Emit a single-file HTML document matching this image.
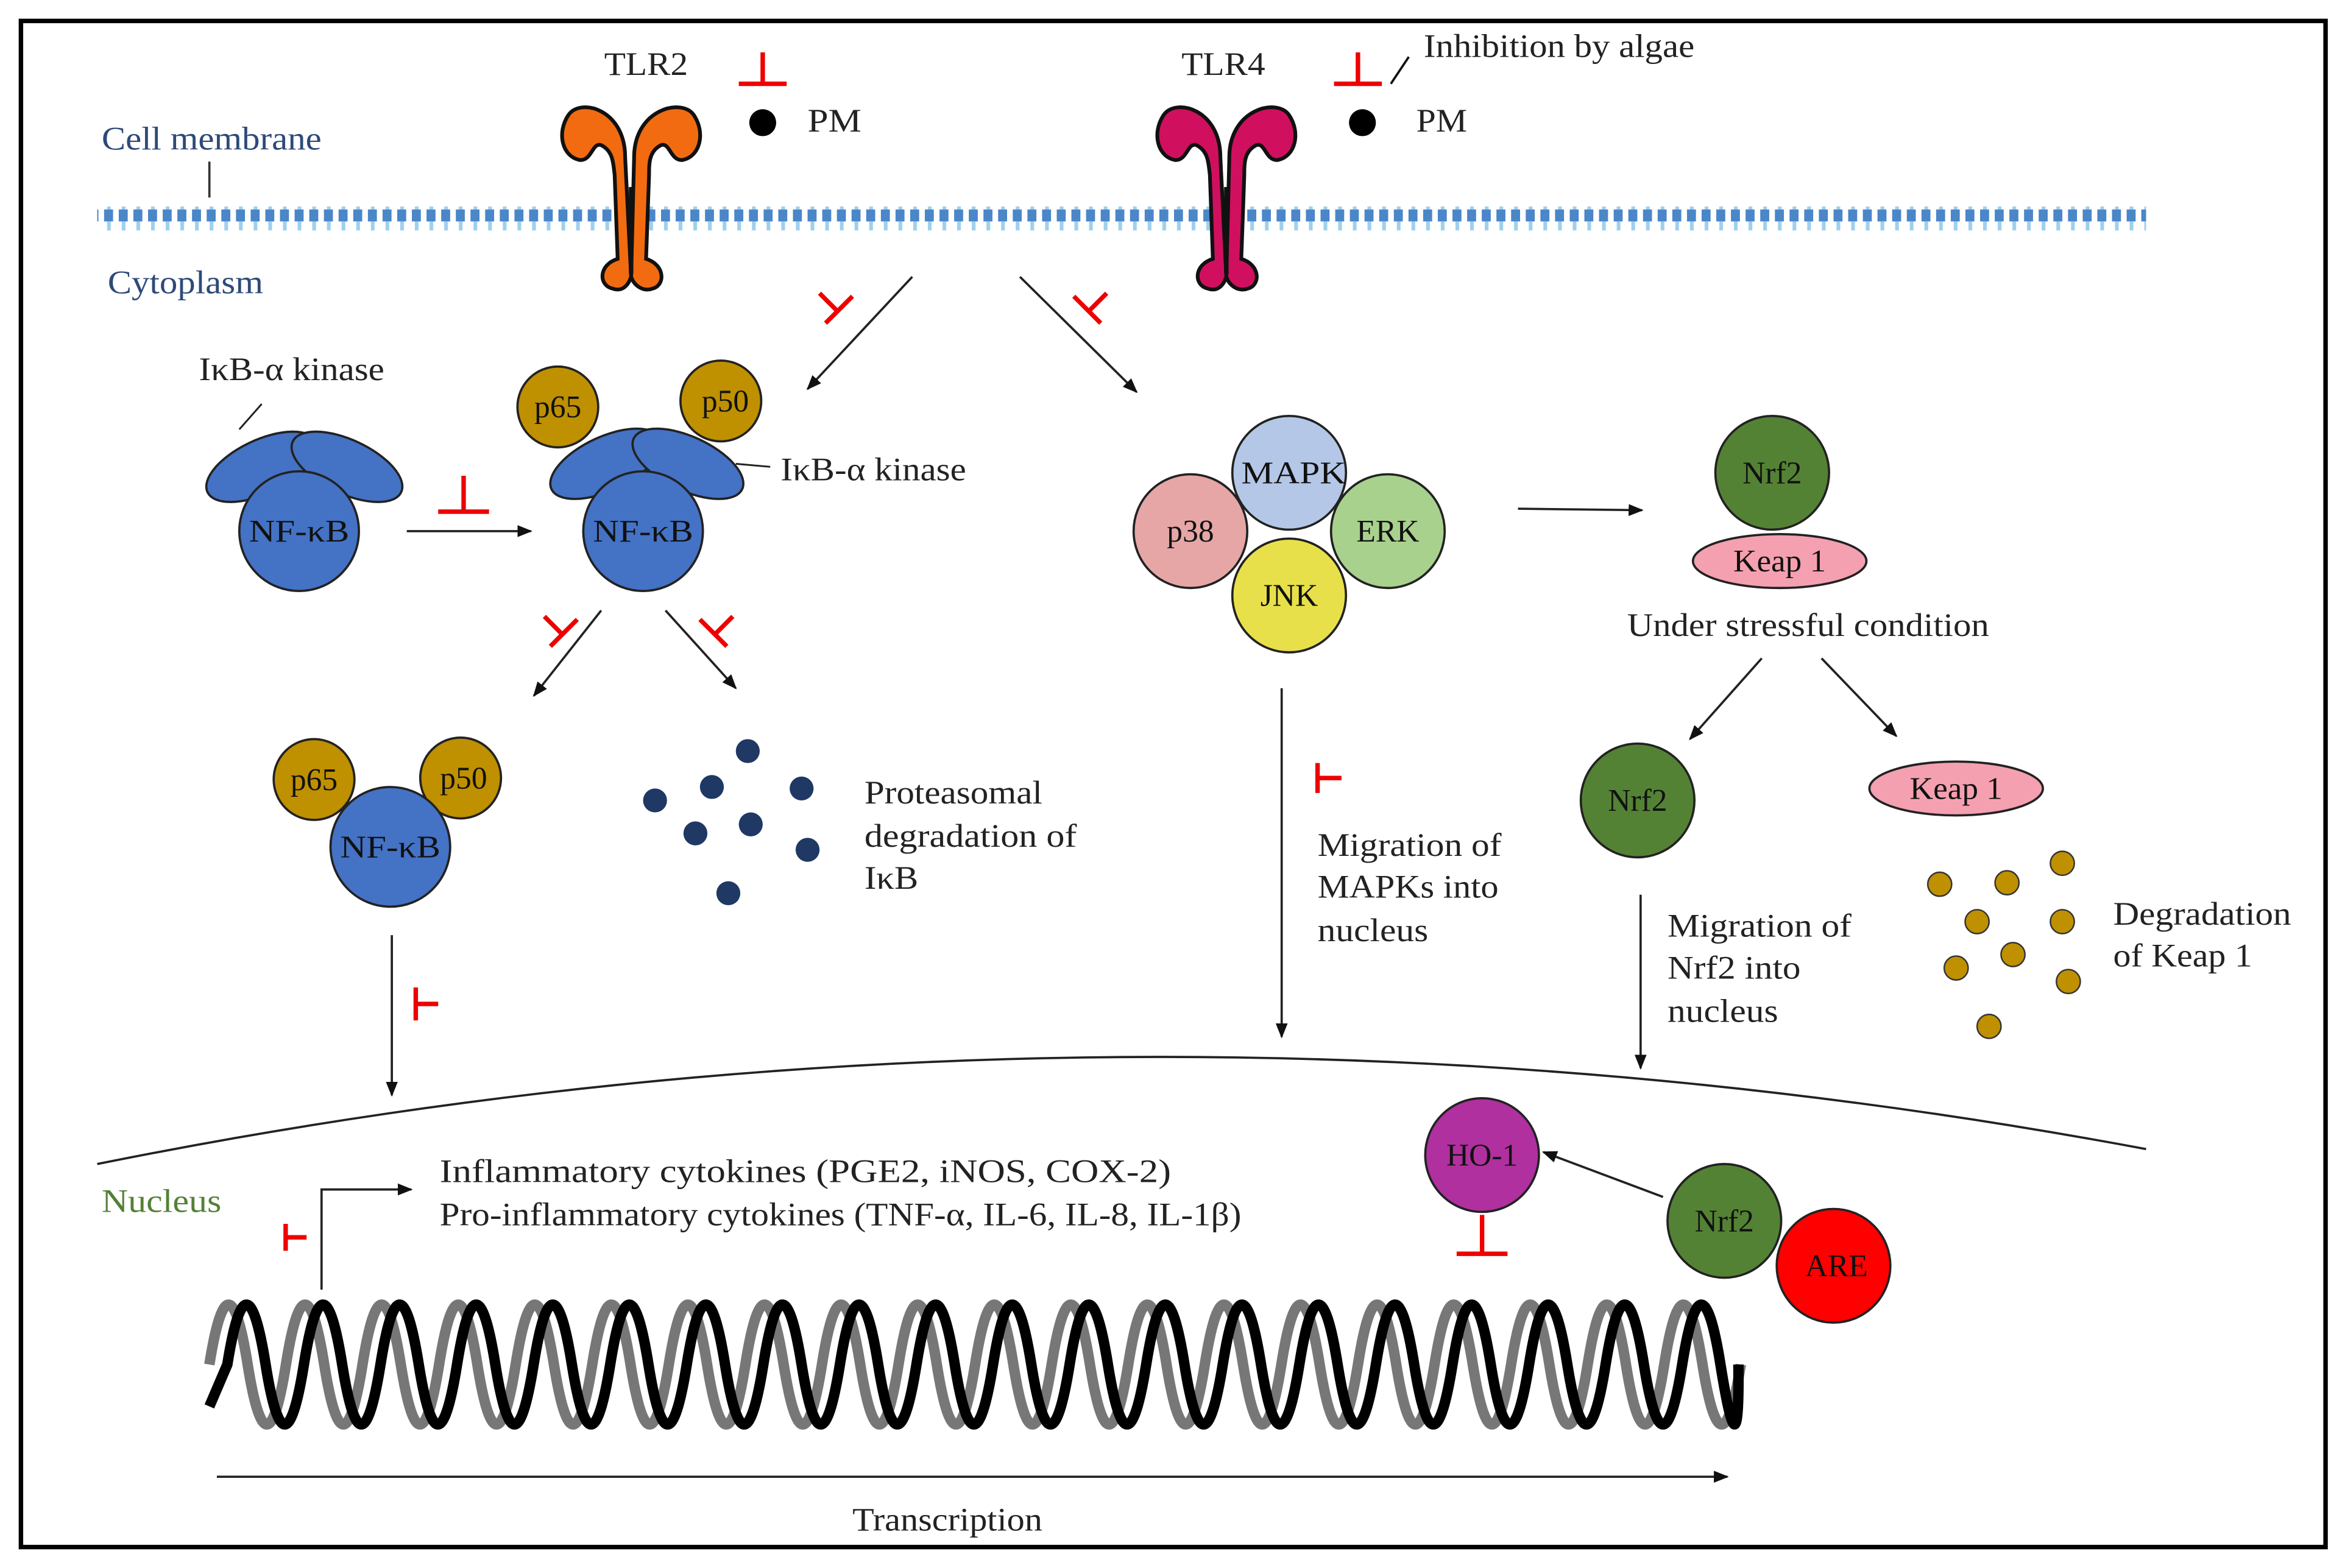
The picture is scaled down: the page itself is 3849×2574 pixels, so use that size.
<!DOCTYPE html>
<html><head><meta charset="utf-8"><style>html,body{margin:0;padding:0;background:#fff}svg{display:block}</style></head>
<body>
<svg width="3849" height="2574" viewBox="0 0 1568 1048" preserveAspectRatio="none" xmlns="http://www.w3.org/2000/svg" font-family="Liberation Serif, serif" font-size="22">
<defs>
<marker id="ah" markerWidth="10" markerHeight="10" refX="9" refY="5" orient="auto" markerUnits="userSpaceOnUse"><path d="M0,1 L10,5 L0,9 Z" fill="#111"/></marker>
<pattern id="mem" x="0" y="0" width="9.8" height="16" patternUnits="userSpaceOnUse">
<rect x="1" y="0" width="6" height="4" fill="#4a86c8"/><rect x="3" y="4" width="2.5" height="8" fill="#9fd0ee"/><rect x="1" y="12" width="6" height="4" fill="#4a86c8"/>
</pattern>
<g id="rec">
<path d="M-4,40 C-4,8 -34,0 -42,12 C-50,24 -46,40 -34,42 C-26,42 -26,30 -20,32 C-12,36 -12,44 -11,52 L-9,108 C-22,112 -22,126 -12,128 C-6,130 -2,126 0,120 Z" stroke="#111" stroke-width="2.5"/>
<path d="M2,40 C2,8 34,0 42,12 C50,24 46,40 34,42 C26,42 26,30 20,32 C12,36 12,44 12,52 L10,108 C23,112 23,126 14,128 C8,130 2,126 0,120 Z" stroke="#111" stroke-width="2.5"/>
<line x1="0" y1="60" x2="0" y2="118" stroke="#111" stroke-width="3"/>
</g>
</defs>
<rect x="14" y="14" width="1541" height="1020" fill="none" stroke="#000" stroke-width="3"/>
<rect x="65" y="138" width="1370" height="16" fill="url(#mem)"/>
<use href="#rec" x="422" y="65" fill="#f26b10"/>
<use href="#rec" x="820" y="65" fill="#d0105e"/>
<g fill="#222" lengthAdjust="spacingAndGlyphs">
<text x="404" y="50" textLength="56" lengthAdjust="spacingAndGlyphs">TLR2</text><text x="790" y="50" textLength="56" lengthAdjust="spacingAndGlyphs">TLR4</text>
<text x="952" y="38" textLength="181" lengthAdjust="spacingAndGlyphs">Inhibition by algae</text>
<text x="540" y="88" textLength="36" lengthAdjust="spacingAndGlyphs">PM</text><text x="947" y="88" textLength="34" lengthAdjust="spacingAndGlyphs">PM</text>
</g>
<circle cx="510" cy="82" r="9" fill="#000"/><circle cx="911" cy="82" r="9" fill="#000"/>
<g stroke="#e00" stroke-width="3" fill="none">
<path d="M510,35 V56 M494,56 H526"/><path d="M908,35 V56 M892,56 H924"/>
<path d="M310,318 V342 M293,342 H327"/>
<path d="M548,196 L560,208 M552,216 L570,198"/>
<path d="M740,196 L728,208 M718,198 L736,216"/>
<path d="M364,412 L376,424 M368,432 L386,414"/>
<path d="M490,412 L478,424 M468,414 L486,432"/>
<path d="M278,660 V682 M278,671 H293"/>
<path d="M881,510 V530 M881,520 H897"/>
<path d="M191,818 V836 M191,827 H205"/>
<path d="M991,812 V838 M974,838 H1008"/>
</g>
<line x1="930" y1="56" x2="942" y2="38" stroke="#111" stroke-width="1.5"/>
<g fill="#2e4a7a"><text x="68" y="100" textLength="147" lengthAdjust="spacingAndGlyphs">Cell membrane</text><text x="72" y="196" textLength="104" lengthAdjust="spacingAndGlyphs">Cytoplasm</text></g>
<line x1="140" y1="108" x2="140" y2="132" stroke="#333" stroke-width="1.5"/>
<g stroke="#222" stroke-width="1.5" marker-end="url(#ah)">
<line x1="610" y1="185" x2="540" y2="260"/><line x1="682" y1="185" x2="760" y2="262"/>
<line x1="272" y1="355" x2="355" y2="355"/>
<line x1="402" y1="408" x2="357" y2="465"/><line x1="445" y1="408" x2="492" y2="460"/>
<line x1="262" y1="625" x2="262" y2="732"/>
<line x1="1015" y1="340" x2="1098" y2="341"/>
<line x1="1178" y1="440" x2="1130" y2="494"/><line x1="1218" y1="440" x2="1268" y2="492"/>
<line x1="857" y1="460" x2="857" y2="693"/><line x1="1097" y1="598" x2="1097" y2="714"/>
<polyline points="215,862 215,795 275,795" fill="none"/>
<line x1="1112" y1="800" x2="1032" y2="770"/>
<line x1="145" y1="987" x2="1155" y2="987"/>
</g>
<line x1="175" y1="270" x2="160" y2="287" stroke="#222" stroke-width="1.2"/>
<line x1="492" y1="310" x2="515" y2="312" stroke="#222" stroke-width="1.2"/>
<g stroke="#222" stroke-width="1.5">
<ellipse cx="175" cy="312" rx="40" ry="18" fill="#4472c4" transform="rotate(-25 175 312)"/>
<ellipse cx="232" cy="312" rx="40" ry="18" fill="#4472c4" transform="rotate(25 232 312)"/>
<circle cx="200" cy="355" r="40" fill="#4472c4"/>
<circle cx="373" cy="272" r="27" fill="#bf9000"/><circle cx="482" cy="268" r="27" fill="#bf9000"/>
<ellipse cx="405" cy="310" rx="40" ry="18" fill="#4472c4" transform="rotate(-25 405 310)"/>
<ellipse cx="460" cy="310" rx="40" ry="18" fill="#4472c4" transform="rotate(25 460 310)"/>
<circle cx="430" cy="355" r="40" fill="#4472c4"/>
<circle cx="210" cy="521" r="27" fill="#bf9000"/><circle cx="308" cy="520" r="27" fill="#bf9000"/>
<circle cx="261" cy="566" r="40" fill="#4472c4"/>
<circle cx="796" cy="355" r="38" fill="#e6a6a6"/><circle cx="928" cy="355" r="38" fill="#a9d18e"/>
<circle cx="862" cy="316" r="38" fill="#b4c7e7"/><circle cx="862" cy="398" r="38" fill="#e8e04a"/>
<circle cx="1185" cy="316" r="38" fill="#548235"/>
<ellipse cx="1190" cy="375" rx="58" ry="18" fill="#f4a0b0"/>
<circle cx="1095" cy="535" r="38" fill="#548235"/>
<ellipse cx="1308" cy="527" rx="58" ry="18" fill="#f4a0b0"/>
<circle cx="991" cy="772" r="38" fill="#b0309f"/>
<circle cx="1153" cy="816" r="38" fill="#548235"/><circle cx="1226" cy="846" r="38" fill="#ff0000"/>
</g>
<g font-size="21" fill="#111" text-anchor="middle">
<text x="200" y="362" textLength="67" lengthAdjust="spacingAndGlyphs">NF-κB</text><text x="430" y="362" textLength="67" lengthAdjust="spacingAndGlyphs">NF-κB</text><text x="261" y="573" textLength="67" lengthAdjust="spacingAndGlyphs">NF-κB</text>
<text x="373" y="279">p65</text><text x="485" y="275">p50</text><text x="210" y="528">p65</text><text x="310" y="527">p50</text>
<text x="796" y="362">p38</text><text x="928" y="362">ERK</text><text x="865" y="323" textLength="70" lengthAdjust="spacingAndGlyphs">MAPK</text><text x="862" y="405">JNK</text>
<text x="1185" y="323">Nrf2</text><text x="1190" y="382" textLength="62" lengthAdjust="spacingAndGlyphs">Keap 1</text><text x="1095" y="542">Nrf2</text><text x="1308" y="534" textLength="62" lengthAdjust="spacingAndGlyphs">Keap 1</text>
<text x="991" y="779">HO-1</text><text x="1153" y="823">Nrf2</text><text x="1228" y="853">ARE</text>
</g>
<g fill="#1f3864">
<circle cx="438" cy="535" r="8"/><circle cx="476" cy="526" r="8"/><circle cx="500" cy="502" r="8"/><circle cx="536" cy="527" r="8"/>
<circle cx="465" cy="557" r="8"/><circle cx="502" cy="551" r="8"/><circle cx="540" cy="568" r="8"/><circle cx="487" cy="597" r="8"/>
</g>
<g fill="#bf9000" stroke="#333" stroke-width="1">
<circle cx="1297" cy="591" r="8"/><circle cx="1342" cy="590" r="8"/><circle cx="1379" cy="577" r="8"/><circle cx="1322" cy="616" r="8"/>
<circle cx="1379" cy="616" r="8"/><circle cx="1308" cy="647" r="8"/><circle cx="1346" cy="638" r="8"/><circle cx="1383" cy="656" r="8"/><circle cx="1330" cy="686" r="8"/>
</g>
<g fill="#222">
<text x="133" y="254" textLength="124" lengthAdjust="spacingAndGlyphs">IκB-α kinase</text><text x="522" y="321" textLength="124" lengthAdjust="spacingAndGlyphs">IκB-α kinase</text>
<text x="578" y="537" textLength="119" lengthAdjust="spacingAndGlyphs">Proteasomal</text><text x="578" y="566" textLength="142" lengthAdjust="spacingAndGlyphs">degradation of</text><text x="578" y="594" textLength="36" lengthAdjust="spacingAndGlyphs">IκB</text>
<text x="1088" y="425" textLength="242" lengthAdjust="spacingAndGlyphs">Under stressful condition</text>
<text x="1413" y="618" textLength="119" lengthAdjust="spacingAndGlyphs">Degradation</text><text x="1413" y="646" textLength="93" lengthAdjust="spacingAndGlyphs">of Keap 1</text>
<text x="881" y="572" textLength="123" lengthAdjust="spacingAndGlyphs">Migration of</text><text x="881" y="600" textLength="121" lengthAdjust="spacingAndGlyphs">MAPKs into</text><text x="881" y="629" textLength="74" lengthAdjust="spacingAndGlyphs">nucleus</text>
<text x="1115" y="626" textLength="123" lengthAdjust="spacingAndGlyphs">Migration of</text><text x="1115" y="654" textLength="89" lengthAdjust="spacingAndGlyphs">Nrf2 into</text><text x="1115" y="683" textLength="74" lengthAdjust="spacingAndGlyphs">nucleus</text>
<text x="294" y="790" textLength="489" lengthAdjust="spacingAndGlyphs">Inflammatory cytokines (PGE2, iNOS, COX-2)</text>
<text x="294" y="819" textLength="536" lengthAdjust="spacingAndGlyphs">Pro-inflammatory cytokines (TNF-α, IL-6, IL-8, IL-1β)</text>
<text x="570" y="1023" textLength="127" lengthAdjust="spacingAndGlyphs">Transcription</text>
</g>
<text x="68" y="810" fill="#538135" textLength="80" lengthAdjust="spacingAndGlyphs">Nucleus</text>
<path d="M65,778 Q750,640 1435,768" fill="none" stroke="#222" stroke-width="1.5"/>
<g fill="none" stroke-width="7">
<path stroke="#777" d="M140,912 q12.8,-80 25.6,0 t25.6,0 t25.6,0 t25.6,0 t25.6,0 t25.6,0 t25.6,0 t25.6,0 t25.6,0 t25.6,0 t25.6,0 t25.6,0 t25.6,0 t25.6,0 t25.6,0 t25.6,0 t25.6,0 t25.6,0 t25.6,0 t25.6,0 t25.6,0 t25.6,0 t25.6,0 t25.6,0 t25.6,0 t25.6,0 t25.6,0 t25.6,0 t25.6,0 t25.6,0 t25.6,0 t25.6,0 t25.6,0 t25.6,0 t25.6,0 t25.6,0 t25.6,0 t25.6,0 t25.6,0 t25.6,0"/>
<path stroke="#000" d="M140,940 L152,912 q12.8,-80 25.6,0 t25.6,0 t25.6,0 t25.6,0 t25.6,0 t25.6,0 t25.6,0 t25.6,0 t25.6,0 t25.6,0 t25.6,0 t25.6,0 t25.6,0 t25.6,0 t25.6,0 t25.6,0 t25.6,0 t25.6,0 t25.6,0 t25.6,0 t25.6,0 t25.6,0 t25.6,0 t25.6,0 t25.6,0 t25.6,0 t25.6,0 t25.6,0 t25.6,0 t25.6,0 t25.6,0 t25.6,0 t25.6,0 t25.6,0 t25.6,0 t25.6,0 t25.6,0 t25.6,0 t25.6,0 t12,0"/>
</g>
</svg>
</body></html>
